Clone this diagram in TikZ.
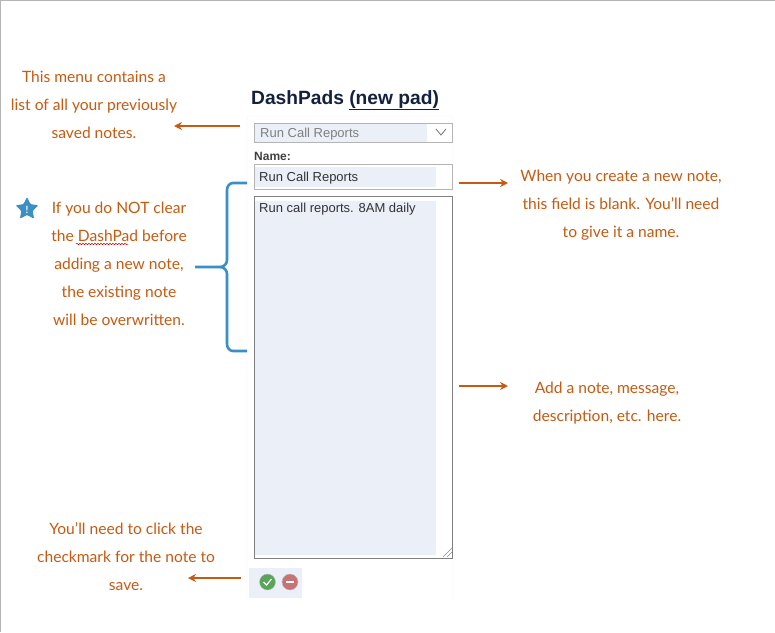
\documentclass[tikz,border=0pt]{standalone}
\usepackage{fontspec}
\usepackage{xcolor}
\usetikzlibrary{arrows.meta,shapes.geometric,decorations.pathmorphing}
\setmainfont{Lato}
\newfontfamily\uifont{Liberation Sans}
\definecolor{vorange}{HTML}{c55a11}
\definecolor{vblue}{HTML}{3a8fc4}
\definecolor{vnavy}{HTML}{14213d}
\definecolor{vfield}{HTML}{eaeff8}
\definecolor{vborder}{HTML}{b4b4b4}
\tikzset{
	note/.style={color=vorange, align=center, font=\fontsize{15.6}{28}\selectfont, inner sep=0},
	pointer/.style={color=vorange, line width=2.4pt, -{Stealth[length=8pt, width=8pt]}},
	uitext/.style={anchor=base west, inner sep=0, font=\uifont\fontsize{13}{14}\selectfont},
	uibox/.style={draw=vborder, line width=.8pt, inner sep=0, anchor=north west},
	uifill/.style={fill=vfield, draw=none, inner sep=0, anchor=north west}
}
\begin{document}
\begin{tikzpicture}[x=1pt, y=-1pt]
		\useasboundingbox (0,0) rectangle (775,632);
		\draw[color=vborder] (0,632) -- (0,0) -- (775,0);
		% panel
		\draw[color=black!5, rounded corners=2] (247,598) -- (247,116) -- (453,116) -- (453,598);
		\node[anchor=base west, inner sep=0, color=vnavy, font=\uifont\bfseries\fontsize{19.2}{22}\selectfont] (title) at (251,104) {DashPads \underline{(new pad)}};
		% dropdown
		\node[uifill, minimum width=173, minimum height=19] (menufill) at (254,123) {};
		\node[uibox, minimum width=198, minimum height=19] (menu) at (254,123) {};
		\node[uitext, color=black!50] (menutext) at (260,137) {Run Call Reports};
		\draw[color=black!55, line width=.8pt] (436,129) -- (441,135) -- (446,129);
		\node[uitext, font=\uifont\bfseries\fontsize{12}{14}\selectfont, color=black!75] (namelabel) at (254,160) {Name:};
		% name field
		\node[uibox, minimum width=198, minimum height=25] (name) at (254,164) {};
		\node[uifill, minimum width=181, minimum height=20] (namefill) at (255,167) {};
		\node[uitext, color=black!80] (nametext) at (259,181) {Run Call Reports};
		% note field
		\node[uibox, draw=black!50, minimum width=198, minimum height=362] (pad) at (254,196) {};
		\node[uifill, minimum width=181, minimum height=354] (padfill) at (255,201) {};
		\node[uitext, color=black!80] (padtext) at (259,212) {Run call reports. 8AM daily};
		\draw[color=black!45] (443,557) -- (452,548);
		\draw[color=black!45] (447,557) -- (452,552);
		% buttons
		\node[uifill, minimum width=53, minimum height=30] (btnfill) at (249,568) {};
		\node[circle, fill=green!45!black!65, draw=black!25, minimum size=16, inner sep=0] (save) at (267.500,582) {};
		\draw[color=white, line width=1.2pt] (263.500,582) -- (266.500,585) -- (271.500,579);
		\node[circle, fill=red!60!black!55, draw=black!25, minimum size=16, inner sep=0] (cancel) at (290,582) {};
		\draw[color=white, line width=1.5pt] (286,582) -- (294,582);
		% notes
		\node[note] (menunote) at (94,105) {This menu contains a\\list of all your previously\\saved notes.};
		\node[note] (namenote) at (621,205) {When you create a new note,\\this field is blank. You'll need\\to give it a name.};
		\node[note] (padnote) at (607,403) {Add a note, message,\\description, etc. here.};
		\node[note] (savenote) at (126,557) {You'll need to click the\\checkmark for the note to\\save.};
		\node[note] (warnnote) at (119,264) {If you do NOT clear\\the DashPad before\\adding a new note,\\the existing note\\will be overwritten.};
		\draw[color=red!75!black, line width=.5pt, decorate, decoration={snake, amplitude=.7, segment length=3}] (76,244) -- (128,244);
		\node[star, star points=5, star point ratio=2, fill=vblue, minimum size=24, inner sep=0, rounded corners=1] (warnstar) at (27,209) {};
		\node[color=white, inner sep=0, font=\bfseries\fontsize{10}{10}\selectfont] (warnmark) at (27,209.500) {!};
		% pointers
		\coordinate (menuend) at (240,126);
		\coordinate (menutip) at (174,126);
		\coordinate (nameend) at (459,183);
		\coordinate (nametip) at (508,183);
		\coordinate (padend) at (459,386);
		\coordinate (padtip) at (508,386);
		\coordinate (saveend) at (241,578);
		\coordinate (savetip) at (188,578);
		\draw[pointer] (menuend) -- (menutip);
		\draw[pointer] (nameend) -- (nametip);
		\draw[pointer] (padend) -- (padtip);
		\draw[pointer] (saveend) -- (savetip);
		% brace
		\coordinate (bracetop) at (247,183);
		\coordinate (bracebot) at (247,351);
		\coordinate (bracetip) at (195,267);
		\draw[color=vblue, line width=2.6pt] (bracetop) -- (233,183) to[out=180, in=90] (227,190) -- (227,260) to[out=270, in=0] (220,267) -- (bracetip);
		\draw[color=vblue, line width=2.6pt] (bracebot) -- (233,351) to[out=180, in=270] (227,344) -- (227,274) to[out=90, in=0] (220,267);
	\end{tikzpicture}
\end{document}
